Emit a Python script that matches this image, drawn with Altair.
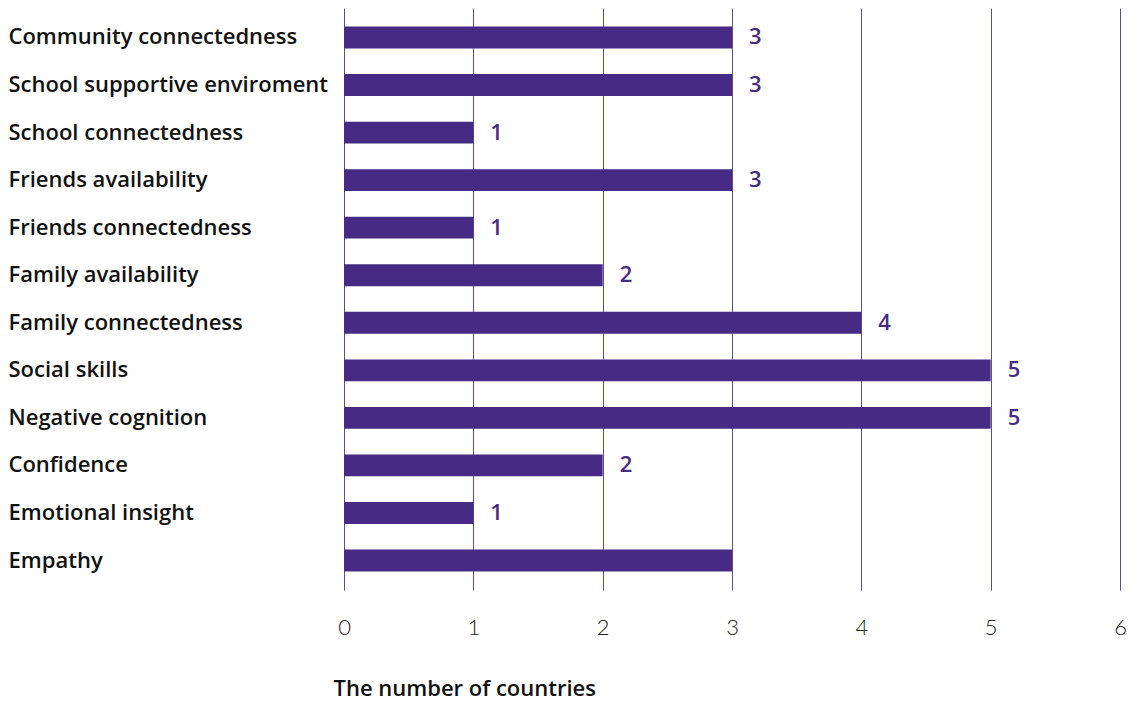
import altair as alt
import pandas as pd

categories = [
    "Community connectedness",
    "School supportive enviroment",
    "School connectedness",
    "Friends availability",
    "Friends connectedness",
    "Family availability",
    "Family connectedness",
    "Social skills",
    "Negative cognition",
    "Confidence",
    "Emotional insight",
    "Empathy",
]
values = [3, 3, 1, 3, 1, 2, 4, 5, 5, 2, 1, 3]
value_labels = ["3", "3", "1", "3", "1", "2", "4", "5", "5", "2", "1", ""]
x_ticks = [0, 1, 2, 3, 4, 5, 6]

PURPLE = "#472A84"
FONT = "Open Sans"
TICKFONT = "Lato"

df = pd.DataFrame({"cat": categories, "val": values, "lab": value_labels})

y_enc = alt.Y(
    "cat:N",
    sort=categories,
    scale=alt.Scale(paddingInner=0.54, paddingOuter=0.39),
    axis=alt.Axis(
        title=None,
        labelAlign="left",
        labelPadding=336,
        labelLimit=400,
        labelFontSize=22,
        labelFont=FONT,
        labelFontWeight=600,
        labelColor="#111111",
        ticks=False,
        domain=False,
        grid=False,
    ),
)

x_enc = alt.X(
    "val:Q",
    scale=alt.Scale(domain=[0, 6], nice=False),
    axis=alt.Axis(
        values=x_ticks,
        title="The number of countries",
        titleFont=FONT,
        titleFontSize=22,
        titleFontWeight=600,
        titleColor="#111111",
        titleAnchor="start",
        titleAlign="left",
        titleBaseline="alphabetic",
        titleX=-11,
        titleY=105,
        labelFont=TICKFONT,
        labelFontSize=22,
        labelFontWeight=300,
        labelColor="#222222",
        labelPadding=27,
        labelFlush=False,
        labelOverlap=False,
        ticks=False,
        domain=False,
        grid=True,
        gridColor=PURPLE,
        gridWidth=1,
        gridOpacity=0.85,
        format="d",
    ),
)

bars = alt.Chart(df).mark_bar(color=PURPLE).encode(x=x_enc, y=y_enc)

text = alt.Chart(df).mark_text(
    align="left", dx=17, fontSize=22, font=FONT, fontWeight=600, color=PURPLE
).encode(
    x=alt.X("val:Q"),
    y=alt.Y("cat:N", sort=categories),
    text="lab:N",
)

chart = (
    alt.layer(bars, text)
    .properties(
        width=776,
        height=582,
        padding={"left": 8, "top": 8, "right": 3, "bottom": 0},
        background="white",
    )
    .configure_view(stroke=None)
)

chart.save("out.html", embed_options={"renderer": "svg", "actions": False})
